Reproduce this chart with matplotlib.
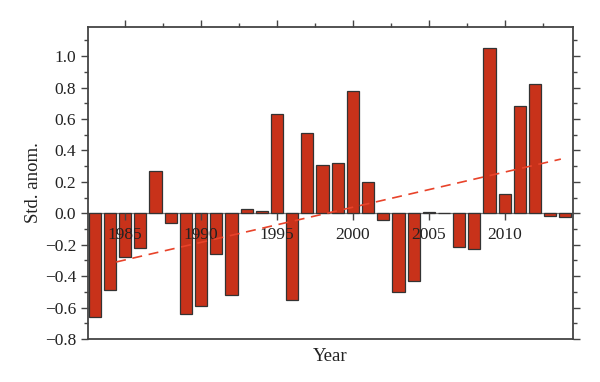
import matplotlib
matplotlib.use("Agg")
import matplotlib.pyplot as plt
from matplotlib.ticker import MultipleLocator

plt.rcParams['font.family'] = ['Liberation Serif', 'DejaVu Serif']

# standardised anomaly per year
years = list(range(1983, 2015))
anom = [-0.66, -0.49, -0.28, -0.22, 0.27, -0.06, -0.64, -0.59, -0.26, -0.52,
        0.03, 0.015, 0.63, -0.55, 0.51, 0.31, 0.32, 0.78, 0.20, -0.04,
        -0.50, -0.43, 0.008, 0.0, -0.215, -0.225, 1.05, 0.12, 0.685, 0.825,
        -0.017, -0.024]

# linear trend, end points
trend_x = [1984.4, 2013.7]
trend_y = [-0.31, 0.345]

frame_col = '#444444'

fig = plt.figure(figsize=(6.0, 3.82), dpi=100)
ax = fig.add_axes([0.1467, 0.1126, 0.8083, 0.8164])
ax.set_axisbelow(False)

ax.bar(years, anom, width=0.8, color='#c8321a', edgecolor='#333333',
       linewidth=0.9, zorder=2)
ax.plot(trend_x, trend_y, ls=(0, (6, 4)), color='#e8432a', lw=1.2, zorder=3)

ax.set_xlim(1982.55, 2014.5)
ax.set_ylim(-0.8, 1.185)

# x axis sits on the zero line, frame drawn separately
ax.spines['bottom'].set_position(('data', 0))
ax.spines['bottom'].set_color('#777777')
ax.spines['bottom'].set_linewidth(0.9)
ax.spines['bottom'].set_zorder(1)
ax.plot([0, 1], [0, 0], transform=ax.transAxes, clip_on=False,
        color=frame_col, lw=1.3)
for s in ['left', 'right', 'top']:
    ax.spines[s].set_color(frame_col)
    ax.spines[s].set_linewidth(1.3)

ax.xaxis.set_major_locator(MultipleLocator(5))
ax.xaxis.set_minor_locator(MultipleLocator(2.5))
ax.yaxis.set_minor_locator(MultipleLocator(0.1))
ax.set_yticks([-0.8, -0.6, -0.4, -0.2, 0.0, 0.2, 0.4, 0.6, 0.8, 1.0])
ax.set_yticklabels(['\u22120.8', '\u22120.6', '\u22120.4', '\u22120.2', '0.0',
                    '0.2', '0.4', '0.6', '0.8', '1.0'])

ax.tick_params(axis='both', which='both', direction='out', colors=frame_col,
               labelcolor='#222222', labelsize=12.5)
ax.tick_params(axis='x', which='major', top=True, bottom=True, length=5,
               width=1.0, pad=5)
ax.tick_params(axis='x', which='minor', top=True, bottom=False, length=3,
               width=1.0)
ax.tick_params(axis='y', which='major', left=True, right=True, length=5,
               width=1.0)
ax.tick_params(axis='y', which='minor', left=True, right=True, length=3,
               width=1.0)

ax.set_xlabel('Year', fontsize=13.5, color='#222222')
ax.xaxis.set_label_coords(0.5, -0.03)
ax.set_ylabel('Std. anom.', fontsize=13.5, color='#222222')
ax.yaxis.set_label_coords(-0.095, 0.5)

fig.savefig('out.png', dpi=100)
